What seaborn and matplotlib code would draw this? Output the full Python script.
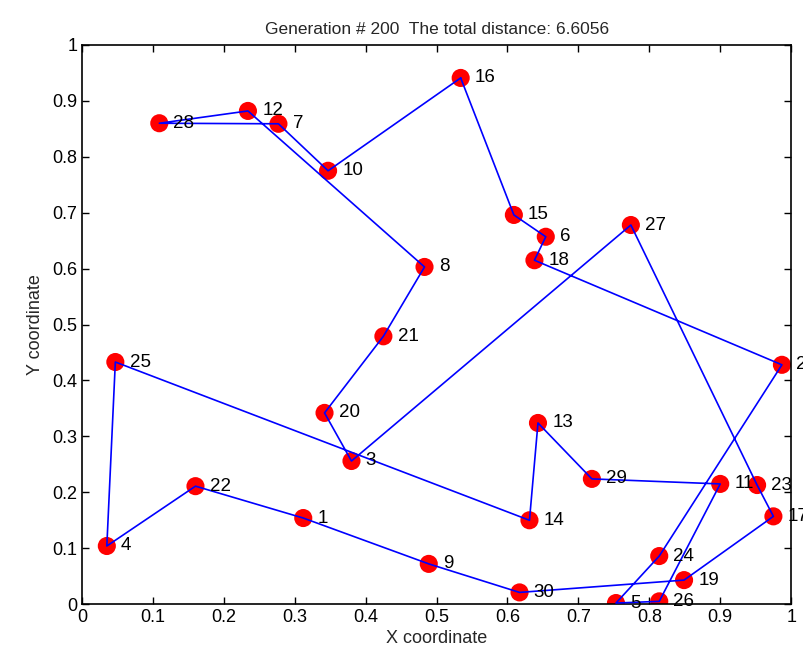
import numpy as np
import pandas as pd
import matplotlib
matplotlib.use("Agg")
import matplotlib.pyplot as plt
import seaborn as sns

# city coordinates (city id -> x, y)
city_id = list(range(1, 31))
x_coord = [0.312, 0.987, 0.380, 0.035, 0.753, 0.654, 0.277, 0.483, 0.489, 0.347,
           0.900, 0.234, 0.643, 0.631, 0.609, 0.534, 0.975, 0.638, 0.849, 0.342,
           0.425, 0.160, 0.952, 0.814, 0.047, 0.814, 0.774, 0.109, 0.719, 0.617]
y_coord = [0.154, 0.428, 0.256, 0.104, 0.002, 0.657, 0.859, 0.603, 0.072, 0.775,
           0.215, 0.882, 0.324, 0.150, 0.696, 0.941, 0.157, 0.615, 0.043, 0.342,
           0.479, 0.211, 0.213, 0.086, 0.433, 0.005, 0.678, 0.860, 0.224, 0.021]

# visiting order of the best route
route = [16, 15, 6, 18, 2, 24, 5, 26, 11, 29, 13, 14, 25, 4, 22, 1, 9, 30,
         19, 17, 23, 27, 3, 20, 21, 8, 12, 28, 7, 10, 16]

generation = 200
total_distance = 6.6056

df_city = pd.DataFrame({"id": city_id, "x": x_coord, "y": y_coord})
df_route = df_city.set_index("id").loc[route].reset_index()

sns.set_style("ticks")
plt.rcParams["font.family"] = ["Liberation Sans", "DejaVu Sans"]

fig = plt.figure(figsize=(8.04, 6.61), dpi=100)
ax = fig.add_axes([0.102, 0.086, 0.882, 0.846])

sns.scatterplot(data=df_city, x="x", y="y", ax=ax, color="#ff0000", s=170,
                edgecolor="none", zorder=2)
sns.lineplot(data=df_route, x="x", y="y", ax=ax, sort=False, color="#0000ff",
             linewidth=1.2, zorder=3, estimator=None)

for cid, cx, cy in zip(city_id, x_coord, y_coord):
    ax.text(cx + 0.02, cy, str(cid), fontsize=13.5, va="center", ha="left",
            color="black", clip_on=False, zorder=4)

ax.set_xlim(0, 1)
ax.set_ylim(0, 1)
ax.set_xticks(np.arange(0, 1.01, 0.1))
ax.set_yticks(np.arange(0, 1.01, 0.1))
ax.set_xticklabels(["0"] + [f"{v:.1f}" for v in np.arange(0.1, 0.95, 0.1)] + ["1"])
ax.set_yticklabels(["0"] + [f"{v:.1f}" for v in np.arange(0.1, 0.95, 0.1)] + ["1"])
ax.tick_params(direction="in", top=True, right=True, labelsize=13, length=5,
               width=1, colors="black")
for sp in ax.spines.values():
    sp.set_visible(True)
    sp.set_linewidth(1.2)
    sp.set_color("black")

ax.set_xlabel("X coordinate", fontsize=13, labelpad=3)
ax.set_ylabel("Y coordinate", fontsize=13, labelpad=6)
ax.set_title(f"Generation # {generation}  The total distance: {total_distance}",
             fontsize=12.5, pad=8)

plt.savefig("out.png", dpi=100, facecolor="white")
plt.close()
